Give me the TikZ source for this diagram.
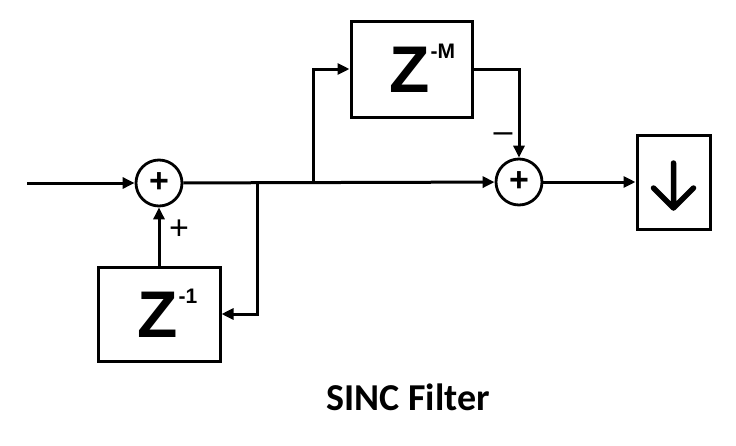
\documentclass[tikz,border=0pt]{standalone}
\usepackage{fontspec}
\setmainfont{Carlito}
\newfontfamily\zfont{Liberation Sans}
\usetikzlibrary{arrows.meta}

\tikzset{
  blk/.style={draw, line width=3pt, inner sep=0pt},
  sumnode/.style={draw, circle, line width=2.8pt, minimum size=46pt, inner sep=0pt,
    font=\zfont\bfseries\fontsize{34}{34}\selectfont},
  zlet/.style={inner sep=0pt, font=\zfont\bfseries\fontsize{66}{66}\selectfont},
  zexp/.style={inner sep=0pt, anchor=north west, font=\zfont\bfseries\fontsize{21}{21}\selectfont},
  sgn/.style={inner sep=0pt, font=\zfont\fontsize{34}{34}\selectfont},
  sig/.style={line width=3pt, -{Triangle[length=12pt,width=11pt]}}
}

\begin{document}
\begin{tikzpicture}[x=1pt,y=-1pt]
\useasboundingbox (0,0) rectangle (736,445);
% adders
\node[sumnode] (sum1) at (159,183) {+};
\node[sumnode] (sum2) at (519,182) {+};
% delay blocks
\node[blk, minimum width=122pt, minimum height=94pt] (zone) at (159,314) {};
\node[zlet] (zoneZ) at (158,315) {Z};
\node[zexp] (zoneE) at ([xshift=0pt,yshift=3pt]zoneZ.north east) {-1};
\node[blk, minimum width=121pt, minimum height=96pt] (zm) at (411.5,69) {};
\node[zlet] (zmZ) at (410,70) {Z};
\node[zexp] (zmE) at ([xshift=0pt,yshift=3pt]zmZ.north east) {-M};
% decimator
\node[blk, minimum width=73pt, minimum height=94pt] (dn) at (673.5,182) {};
\draw[line width=5.5pt, line cap=round, line join=round]
  ([yshift=19pt]dn.center) -- ([yshift=-26pt]dn.center)
  ([xshift=-20pt,yshift=-6pt]dn.center) -- ([yshift=-26pt]dn.center)
  -- ([xshift=20pt,yshift=-6pt]dn.center);
% signs
\node[sgn] (pl) at (179,230) {+};
\node[sgn] (mi) at (503,138) {–};
% title
\node[font=\bfseries\fontsize{38}{38}\selectfont] (title) at (408,397) {SINC Filter};

\coordinate (in) at (27,183);
\coordinate (b1) at (257,183);
\coordinate (b2) at (313,183);
\draw[sig] (in) -- (sum1);
\draw[sig] (sum1) -- (sum2);
\draw[sig] (b1) |- (zone.east);
\draw[sig] (zone.north) -- (sum1.south);
\draw[sig] (b2) |- (zm.west);
\draw[sig] (zm.east) -| (sum2.north);
\draw[sig] (sum2) -- (dn);
\end{tikzpicture}
\end{document}
